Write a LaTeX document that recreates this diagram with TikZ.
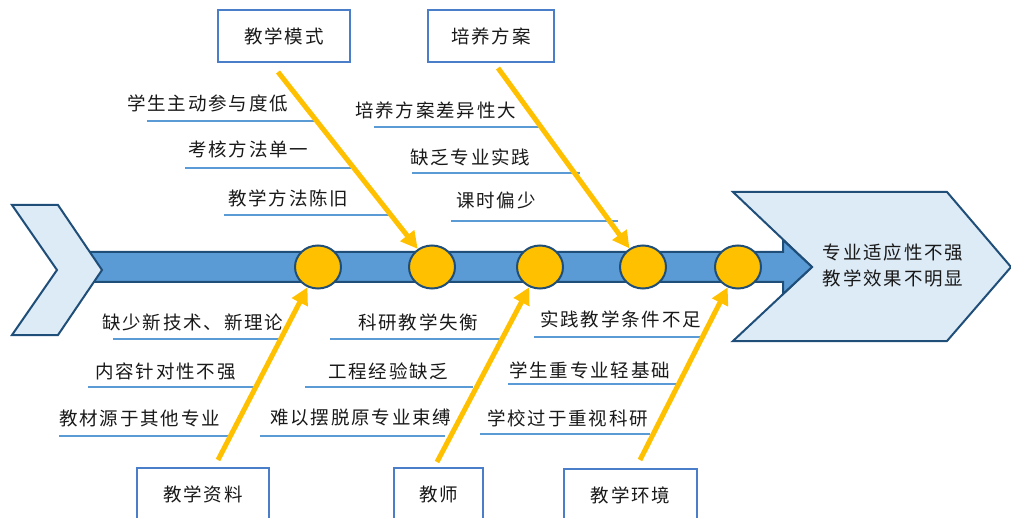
\documentclass[tikz,border=0pt]{standalone}
\usepackage{fontspec}
\newfontfamily\cjk{Noto Sans CJK SC}[LetterSpace=10]
\usetikzlibrary{shapes.geometric,arrows.meta}
\definecolor{dkblue}{HTML}{1F4E79}
\definecolor{midblue}{HTML}{5B9BD5}
\definecolor{ltblue}{HTML}{DDEBF7}
\definecolor{boxblue}{HTML}{4A7EC8}
\definecolor{gold}{HTML}{FFC000}
\tikzset{
  lbl/.style={anchor=west, inner sep=0pt, font=\cjk\fontsize{18.5}{22}\selectfont, text=black!90},
  uline/.style={draw=midblue, line width=1.5pt},
  catbox/.style={draw=boxblue, line width=1.5pt, fill=white, inner sep=0pt, font=\cjk\fontsize{18.5}{22}\selectfont, text=black!90},
  bone/.style={draw=gold, line width=5pt, -{Triangle[length=17pt,width=17pt]}},
  joint/.style={ellipse, draw=dkblue, line width=2pt, fill=gold, minimum width=46pt, minimum height=43pt, inner sep=0pt}
}
\begin{document}
\begin{tikzpicture}[x=1pt,y=-1pt]
\useasboundingbox (0,0) rectangle (1011,518);
\clip (0,0) rectangle (1011,518);
% result chevron
\draw[dkblue, line width=2pt, fill=ltblue, line join=miter]
  (733,192) -- (947,192) -- (1011,267) -- (947,341) -- (733,341) -- (812,267) -- cycle;
% main arrow
\draw[dkblue, line width=2pt, fill=midblue, line join=miter]
  (85,252) -- (783,252) -- (783,240) -- (812,267) -- (783,294) -- (783,282) -- (85,282) -- cycle;
% tail chevron
\draw[dkblue, line width=2pt, fill=ltblue, line join=miter]
  (12,205) -- (58,205) -- (102,270) -- (58,335) -- (12,335) -- (57,270) -- cycle;
% result text
\node[align=center, inner sep=0pt, font=\cjk\fontsize{18.5}{26}\selectfont, text=black!90] (res) at (893,265) {专业适应性不强\\教学效果不明显};
% joints
\node[joint] (c1) at (318,267) {};
\node[joint] (c2) at (432,267) {};
\node[joint] (c3) at (540,267) {};
\node[joint] (c4) at (643,267) {};
\node[joint] (c5) at (738,267) {};
% category boxes
\node[catbox, minimum width=132pt, minimum height=52pt] (mode) at (284,36) {教学模式};
\node[catbox, minimum width=126pt, minimum height=52pt] (plan) at (491,36) {培养方案};
\node[catbox, minimum width=132pt, minimum height=52pt] (mat) at (203,494) {教学资料};
\node[catbox, minimum width=89pt, minimum height=52pt] (tea) at (438.5,494) {教师};
\node[catbox, minimum width=133pt, minimum height=52pt] (env) at (630.5,495) {教学环境};
% bone start points
\coordinate (s1) at (278,72);
\coordinate (s2) at (498,68);
\coordinate (s3) at (218,460);
\coordinate (s4) at (437,462);
\coordinate (s5) at (640,460);
% underlines
\draw[uline] (147,121) -- (315,121);
\draw[uline] (185,168) -- (353,168);
\draw[uline] (224,215) -- (393,215);
\draw[uline] (374,127) -- (542,127);
\draw[uline] (412,173) -- (580,173);
\draw[uline] (451,221) -- (618,221);
\draw[uline] (113,339) -- (283,339);
\draw[uline] (88,387) -- (257,387);
\draw[uline] (59,436) -- (230,436);
\draw[uline] (330,339) -- (500,339);
\draw[uline] (305,387) -- (473,387);
\draw[uline] (260,436) -- (445,436);
\draw[uline] (534,337) -- (703,337);
\draw[uline] (508,384) -- (677,384);
\draw[uline] (480,434) -- (650,434);
% bones
\draw[bone] (s1) -- (c2);
\draw[bone] (s2) -- (c4);
\draw[bone] (s3) -- (c1);
\draw[bone] (s4) -- (c3);
\draw[bone] (s5) -- (c5);
% labels
\node[lbl] (t1) at (127,103) {学生主动参与度低};
\node[lbl] (t2) at (188,149) {考核方法单一};
\node[lbl] (t3) at (228,198) {教学方法陈旧};
\node[lbl] (t4) at (355,110) {培养方案差异性大};
\node[lbl] (t5) at (410,157) {缺乏专业实践};
\node[lbl] (t6) at (456,200) {课时偏少};
\node[lbl] (b1) at (102,322) {缺少新技术、新理论};
\node[lbl] (b2) at (95,371) {内容针对性不强};
\node[lbl] (b3) at (59,418) {教材源于其他专业};
\node[lbl] (b4) at (358,322) {科研教学失衡};
\node[lbl] (b5) at (328,371) {工程经验缺乏};
\node[lbl] (b6) at (270,418) {难以摆脱原专业束缚};
\node[lbl] (b7) at (540,319) {实践教学条件不足};
\node[lbl] (b8) at (509,370) {学生重专业轻基础};
\node[lbl] (b9) at (487,418) {学校过于重视科研};
\end{tikzpicture}
\end{document}
